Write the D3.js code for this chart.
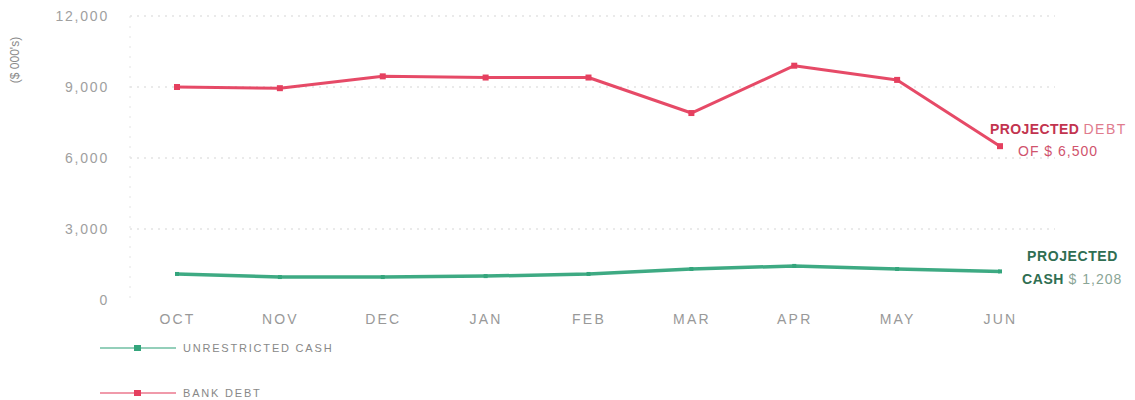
<!DOCTYPE html>
<html>
<head>
<meta charset="utf-8">
<script src="https://cdn.jsdelivr.net/npm/d3@7"></script>
<style>
  html, body { margin: 0; padding: 0; background: #fff; }
  svg { display: block; }
  text { font-family: "Liberation Sans", "DejaVu Sans", sans-serif; }
</style>
</head>
<body>
<div id="chart"></div>
<script>
// Monthly projection, in thousands of dollars
const months = ["OCT", "NOV", "DEC", "JAN", "FEB", "MAR", "APR", "MAY", "JUN"];
const unrestrictedCash = [1100, 970, 970, 1010, 1100, 1310, 1440, 1310, 1208];
const bankDebt = [9000, 8950, 9450, 9400, 9400, 7900, 9900, 9300, 6500];
const yTicks = [0, 3000, 6000, 9000, 12000];

const W = 1135, H = 400;
const svg = d3.select("#chart").append("svg").attr("width", W).attr("height", H);

const x = d3.scalePoint().domain(months).range([177, 1000]);
const y = d3.scaleLinear().domain([0, 12000]).range([300, 16]);

const cashColor = "#34a57c";
const debtColor = "#e5405f";

// Faint dotted gridlines
svg.append("g")
  .selectAll("line")
  .data(yTicks.filter(d => d > 0))
  .join("line")
  .attr("x1", 130).attr("x2", 1055)
  .attr("y1", d => y(d)).attr("y2", d => y(d))
  .attr("stroke", "#d6d6d6")
  .attr("stroke-width", 1.2)
  .attr("stroke-dasharray", "2,5");

// Faint left axis
svg.append("line")
  .attr("x1", 130).attr("x2", 130)
  .attr("y1", y(12000)).attr("y2", y(0))
  .attr("stroke", "#e4e4e4")
  .attr("stroke-dasharray", "2,8");

// Y axis tick labels
const yAxis = d3.axisLeft(y).tickValues(yTicks).tickSize(0).tickPadding(0)
  .tickFormat(d3.format(",.0f"));
svg.append("g")
  .attr("transform", "translate(109,0)")
  .call(yAxis)
  .call(g => g.select(".domain").remove())
  .selectAll("text")
  .attr("fill", "#a0a0a0")
  .attr("font-size", 14)
  .attr("letter-spacing", 1.8)
  .attr("font-family", "Liberation Sans, sans-serif");

// Y axis title
svg.append("text")
  .attr("transform", "translate(19,60) rotate(-90)")
  .attr("text-anchor", "middle")
  .attr("fill", "#8a8a8a")
  .attr("font-size", 12)
  .text("($ 000's)");

// X axis labels
const xAxis = d3.axisBottom(x).tickSize(0).tickPadding(0);
svg.append("g")
  .attr("transform", "translate(0,314)")
  .call(xAxis)
  .call(g => g.select(".domain").remove())
  .selectAll("text")
  .attr("fill", "#999")
  .attr("font-size", 14)
  .attr("letter-spacing", 2.2)
  .attr("font-family", "Liberation Sans, sans-serif");

const line = d3.line()
  .x((d, i) => x(months[i]))
  .y(d => y(d));

function drawSeries(values, color, markerSize, width) {
  svg.append("path")
    .datum(values)
    .attr("d", line)
    .attr("fill", "none")
    .attr("stroke", color)
    .attr("stroke-width", width)
    .attr("stroke-linejoin", "round")
    .attr("opacity", 0.95);
  svg.append("g")
    .selectAll("rect")
    .data(values)
    .join("rect")
    .attr("x", (d, i) => x(months[i]) - markerSize / 2)
    .attr("y", d => y(d) - markerSize / 2)
    .attr("width", markerSize)
    .attr("height", markerSize)
    .attr("fill", color);
}

drawSeries(unrestrictedCash, cashColor, 4, 3.5);
drawSeries(bankDebt, debtColor, 6, 3);

// End annotations
const lastDebt = bankDebt[bankDebt.length - 1];
const lastCash = unrestrictedCash[unrestrictedCash.length - 1];

const debtNote = svg.append("text")
  .attr("x", 990).attr("y", 134)
  .attr("font-size", 14).attr("font-weight", "bold")
  .attr("letter-spacing", 0.4);
debtNote.append("tspan").attr("fill", "#c2344f").text("PROJECTED ");
debtNote.append("tspan").attr("fill", "#e07b8d").attr("font-weight", "normal")
  .attr("letter-spacing", 1.5).text(" DEBT");
svg.append("text")
  .attr("x", 1018).attr("y", 156)
  .attr("font-size", 14)
  .attr("letter-spacing", 1)
  .attr("fill", "#d0536d")
  .text("OF $ " + d3.format(",")(lastDebt));

svg.append("text")
  .attr("x", 1027).attr("y", 261)
  .attr("font-size", 14).attr("font-weight", "bold")
  .attr("letter-spacing", 0.6)
  .attr("fill", "#2f6e52")
  .text("PROJECTED");
const cashNote = svg.append("text")
  .attr("x", 1022).attr("y", 284)
  .attr("font-size", 14).attr("font-weight", "bold")
  .attr("letter-spacing", 0.6);
cashNote.append("tspan").attr("fill", "#2f6e52").text("CASH ");
cashNote.append("tspan").attr("fill", "#8aa596").attr("font-weight", "normal")
  .attr("letter-spacing", 1).text("$ " + d3.format(",")(lastCash));

// Legend
const legend = [
  { name: "UNRESTRICTED CASH", color: cashColor, y: 348 },
  { name: "BANK DEBT", color: debtColor, y: 393 }
];
const lg = svg.append("g").selectAll("g").data(legend).join("g")
  .attr("transform", d => `translate(0,${d.y})`);
lg.append("line")
  .attr("x1", 100).attr("x2", 176)
  .attr("stroke", d => d.color)
  .attr("stroke-width", 1.5)
  .attr("opacity", 0.7);
lg.append("rect")
  .attr("x", 134).attr("y", -3)
  .attr("width", 7).attr("height", 6)
  .attr("fill", d => d.color);
lg.append("text")
  .attr("x", 183).attr("y", 4)
  .attr("font-size", 11)
  .attr("letter-spacing", 1.8)
  .attr("fill", "#888")
  .text(d => d.name);
</script>
</body>
</html>
